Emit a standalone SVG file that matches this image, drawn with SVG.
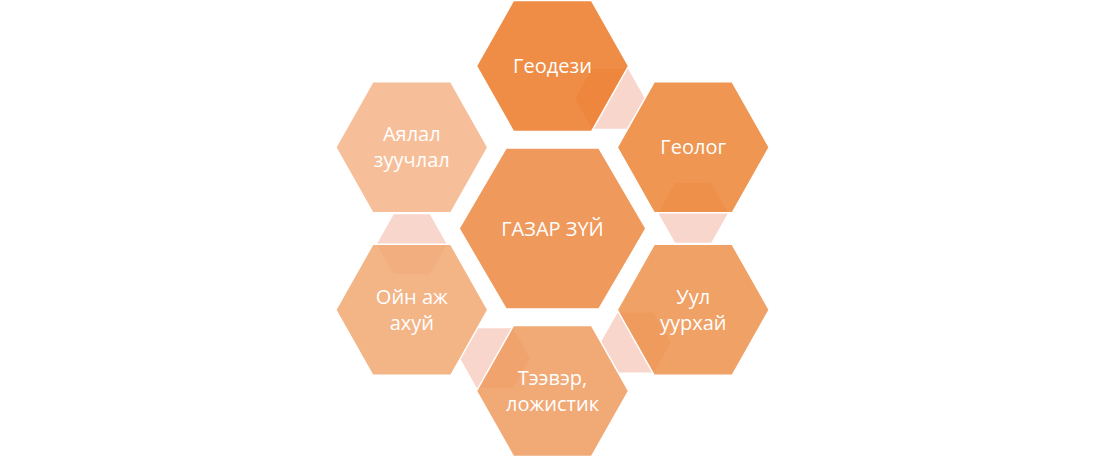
<svg xmlns="http://www.w3.org/2000/svg" width="1104" height="457" viewBox="0 0 1104 457">
  <style>
    .hex { stroke: #FFFFFF; stroke-width: 1.5; fill-opacity: 0.85; }
    .conn { fill: #F8D6CB; stroke: none; }
    .lbl { font-family: "Open Sans", "Liberation Sans", sans-serif; font-size: 20px; fill: #FFFFFF; text-anchor: middle; }
  </style>
  <rect x="0" y="0" width="1104" height="457" fill="#FFFFFF"/>
  <g id="connectors">
    <polygon class="conn" points="575,98.8 592,68.8 628,68.8 645,98.8 628,128.8 592,128.8"/>
    <polygon class="conn" points="658.2,212.8 675.2,182.8 711.2,182.8 728.2,212.8 711.2,242.8 675.2,242.8"/>
    <polygon class="conn" points="600.7,342.5 617.7,312.5 653.7,312.5 670.7,342.5 653.7,372.5 617.7,372.5"/>
    <polygon class="conn" points="460,358.2 477,328.2 513,328.2 530,358.2 513,388.2 477,388.2"/>
    <polygon class="conn" points="376.8,244.3 393.8,214.3 429.8,214.3 446.8,244.3 429.8,274.3 393.8,274.3"/>
  </g>
  <g id="node-center">
    <polygon class="hex" fill="#EC883F" points="459,228.5 506,148 599,148 646,228.5 599,309 506,309"/>
    <text class="lbl" x="552.5" y="235.5">ГАЗАР ЗҮЙ</text>
  </g>
  <g id="node-geodezi">
    <polygon class="hex" fill="#EC7825" points="476.5,66 513.5,0.5 591.5,0.5 628.5,66 591.5,131.5 513.5,131.5"/>
    <text class="lbl" x="552.5" y="73">Геодези</text>
  </g>
  <g id="node-geolog">
    <polygon class="hex" fill="#EC8434" points="617.2,147.3 654.2,81.8 732.2,81.8 769.2,147.3 732.2,212.8 654.2,212.8"/>
    <text class="lbl" x="693.2" y="154.3">Геолог</text>
  </g>
  <g id="node-uul">
    <polygon class="hex" fill="#ED904B" points="617.2,309.8 654.2,244.3 732.2,244.3 769.2,309.8 732.2,375.3 654.2,375.3"/>
    <text class="lbl" x="693.2" y="303.8">Уул</text>
    <text class="lbl" x="693.2" y="329.8">уурхай</text>
  </g>
  <g id="node-teever">
    <polygon class="hex" fill="#EF9A5D" points="476.5,391 513.5,325.5 591.5,325.5 628.5,391 591.5,456.5 513.5,456.5"/>
    <text class="lbl" x="552.5" y="385">Тээвэр,</text>
    <text class="lbl" x="552.5" y="411">ложистик</text>
  </g>
  <g id="node-oin">
    <polygon class="hex" fill="#F1A771" points="335.8,309.8 372.8,244.3 450.8,244.3 487.8,309.8 450.8,375.3 372.8,375.3"/>
    <text class="lbl" x="411.8" y="303.8">Ойн аж</text>
    <text class="lbl" x="411.8" y="329.8">ахуй</text>
  </g>
  <g id="node-ayalal">
    <polygon class="hex" fill="#F4B387" points="335.8,147.3 372.8,81.8 450.8,81.8 487.8,147.3 450.8,212.8 372.8,212.8"/>
    <text class="lbl" x="411.8" y="141.3">Аялал</text>
    <text class="lbl" x="411.8" y="167.3">зуучлал</text>
  </g>
</svg>
